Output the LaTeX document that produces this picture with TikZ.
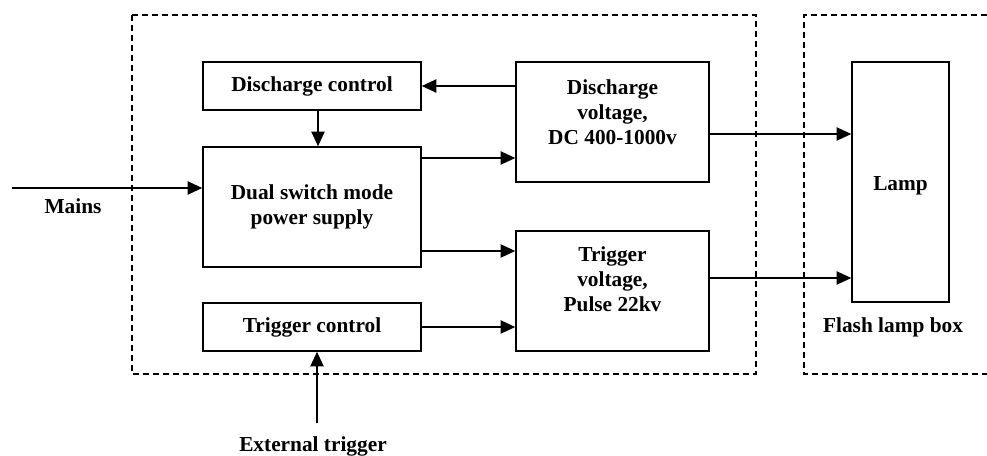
\documentclass[tikz,border=0pt]{standalone}
\usepackage{fontspec}
\setmainfont{Liberation Serif}
\usetikzlibrary{arrows.meta}
\begin{document}
\begin{tikzpicture}[x=0.75pt,y=-0.75pt,
    font=\fontsize{16}{18.75}\selectfont\bfseries,
    blk/.style={draw,line width=1.2pt,inner sep=0pt},
    lbl/.style={align=center,inner sep=0pt},
    frame/.style={line width=1pt,dash pattern=on 4.5pt off 3pt},
    arr/.style={line width=1.1pt,-{Triangle[length=11pt,width=10pt]}}]
  \useasboundingbox (0,0) rectangle (987,456);
  \draw[frame] (132,15) rectangle (756,374);
  \draw[frame] (987,15) -- (804,15) -- (804,374) -- (987,374);
  \draw
    (312,86) node[blk,minimum width=163.5pt,minimum height=36pt] (dischctl){Discharge control}
    (312,207) node[blk,minimum width=163.5pt,minimum height=90pt,align=center] (dual){Dual switch mode\\power supply}
    (312,327) node[blk,minimum width=163.5pt,minimum height=36pt] (trigctl){Trigger control}
    (612.5,122) node[blk,minimum width=144.75pt,minimum height=90pt] (dv){}
    (612.5,291) node[blk,minimum width=144.75pt,minimum height=90pt] (tv){}
    (900.5,182) node[blk,minimum width=72.75pt,minimum height=180pt] (lamp){};
  \draw
    (612.5,112) node[lbl] (dvlbl){Discharge\\voltage,\\DC 400-1000v}
    (612.5,279) node[lbl] (tvlbl){Trigger\\voltage,\\Pulse 22kv}
    (900.5,186) node[lbl] (lamplbl){Lamp}
    (73,206) node[lbl] (mains){Mains}
    (313,446) node[lbl] (exttrig){External trigger}
    (893,327) node[lbl] (flashbox){Flash lamp box};
  \coordinate (mainsin) at (12,188);
  \coordinate (extin) at (317,423);
  \begin{scope}[arr]
    \draw (mainsin) to (dual.west |- mainsin);
    \draw (dv.west |- dischctl) to (dischctl.east);
    \draw (dischctl.south -| 318,0) to (dual.north -| 318,0);
    \draw (dual.east |- 0,158) to (dv.west |- 0,158);
    \draw (dual.east |- 0,251) to (tv.west |- 0,251);
    \draw (trigctl.east) to (tv.west |- trigctl.east);
    \draw (dv.east |- 0,134) to (lamp.west |- 0,134);
    \draw (tv.east |- 0,278) to (lamp.west |- 0,278);
    \draw (extin) to (trigctl.south -| extin);
  \end{scope}
\end{tikzpicture}
\end{document}
